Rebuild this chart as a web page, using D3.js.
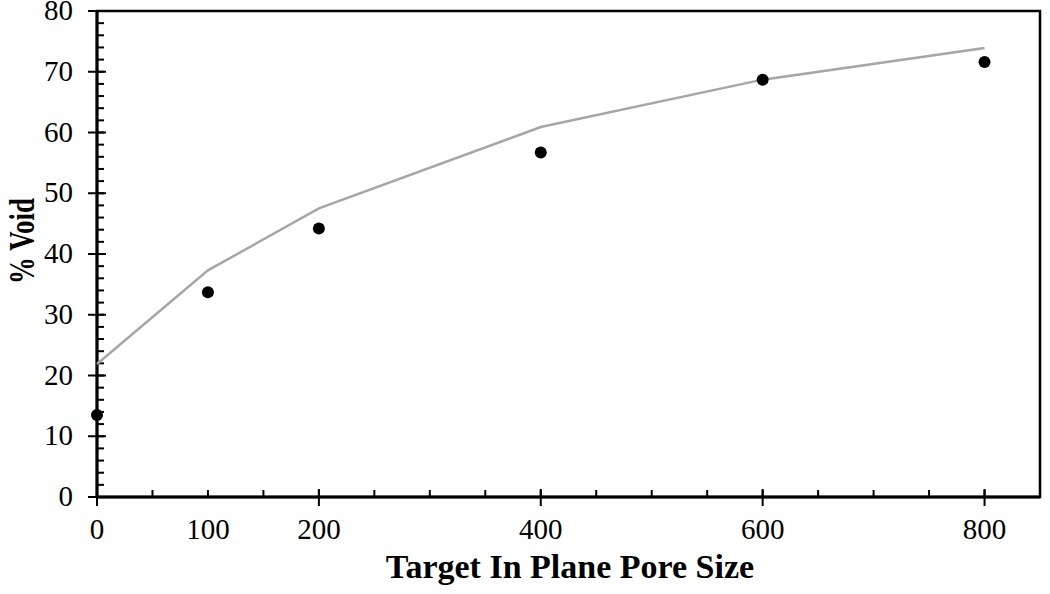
<!DOCTYPE html>
<html>
	<head>
		<meta charset="utf-8">
		<title>% Void vs Target In Plane Pore Size</title>
		<script src="https://d3js.org/d3.v7.min.js"></script>
		<style>
			html, body { margin: 0; background: #fff; }
			svg text { font-family: "Liberation Serif", "Times New Roman", serif; fill: #000; }
		</style>
	</head>
	<body>
		<svg id="chart" width="1050" height="594"></svg>
		<script>
			// measured values
			const poreSize   = [0, 100, 200, 400, 600, 800];
			const voidPct    = [13.5, 33.7, 44.2, 56.7, 68.7, 71.6];
			const fitPct     = [21.9, 37.3, 47.5, 60.9, 68.7, 73.9];
			const xTickLabels = [0, 100, 200, 400, 600, 800];
			const yTickLabels = [0, 10, 20, 30, 40, 50, 60, 70, 80];

			const margin = {top: 11, right: 10, bottom: 97, left: 97},
				width  = 1050 - margin.left - margin.right,
				height = 594 - margin.top - margin.bottom;

			const svg = d3.select("#chart");
			const g = svg.append("g")
				.attr("transform", `translate(${margin.left},${margin.top})`);

			const x = d3.scaleLinear().domain([0, 850]).range([0, width]);
			const y = d3.scaleLinear().domain([0, 80]).range([height, 0]);

			// frame
			g.append("rect")
				.attr("width", width).attr("height", height)
				.attr("fill", "none").attr("stroke", "#000").attr("stroke-width", 2.5);

			// minor ticks (inside)
			g.selectAll(".xminor")
				.data(d3.range(0, 851, 50))
				.enter().append("line")
				.attr("x1", d => x(d)).attr("x2", d => x(d))
				.attr("y1", height).attr("y2", height - 7)
				.attr("stroke", "#000").attr("stroke-width", 2);

			g.selectAll(".yminor")
				.data(d3.range(0, 81, 2))
				.enter().append("line")
				.attr("y1", d => y(d)).attr("y2", d => y(d))
				.attr("x1", 0).attr("x2", 7)
				.attr("stroke", "#000").attr("stroke-width", 2);

			// major ticks (crossing)
			g.selectAll(".xmajor")
				.data(d3.range(0, 851, 200))
				.enter().append("line")
				.attr("x1", d => x(d)).attr("x2", d => x(d))
				.attr("y1", height - 8).attr("y2", height + 9)
				.attr("stroke", "#000").attr("stroke-width", 2);

			g.selectAll(".ymajor")
				.data(d3.range(0, 81, 10))
				.enter().append("line")
				.attr("y1", d => y(d)).attr("y2", d => y(d))
				.attr("x1", -9).attr("x2", 9)
				.attr("stroke", "#000").attr("stroke-width", 2);

			// axis lines on top
			g.append("line").attr("x1", 0).attr("x2", 0).attr("y1", 0).attr("y2", height)
				.attr("stroke", "#000").attr("stroke-width", 3);
			g.append("line").attr("x1", 0).attr("x2", width).attr("y1", height).attr("y2", height)
				.attr("stroke", "#000").attr("stroke-width", 3);

			// tick labels
			g.selectAll(".xlabel")
				.data(xTickLabels)
				.enter().append("text")
				.attr("x", d => x(d)).attr("y", height + 42)
				.attr("text-anchor", "middle")
				.attr("font-size", 29)
				.text(d => d);

			g.selectAll(".ylabel")
				.data(yTickLabels)
				.enter().append("text")
				.attr("x", -24).attr("y", d => y(d) + 9)
				.attr("text-anchor", "end")
				.attr("font-size", 29)
				.text(d => d);

			// fitted line
			const line = d3.line()
				.x((d, i) => x(poreSize[i]))
				.y(d => y(d));

			g.append("path")
				.datum(fitPct)
				.attr("d", line)
				.attr("fill", "none")
				.attr("stroke", "#a6a6a6")
				.attr("stroke-width", 2.5);

			// measured points
			g.selectAll(".dot")
				.data(voidPct)
				.enter().append("circle")
				.attr("cx", (d, i) => x(poreSize[i]))
				.attr("cy", d => y(d))
				.attr("r", 6)
				.attr("fill", "#000");

			// axis titles
			svg.append("text")
				.attr("x", 570).attr("y", 578)
				.attr("text-anchor", "middle")
				.attr("font-size", 34)
				.attr("font-weight", "bold")
				.text("Target In Plane Pore Size");

			svg.append("text")
				.attr("transform", "translate(34,241) rotate(-90)")
				.attr("text-anchor", "middle")
				.attr("font-size", 36)
				.attr("font-weight", "bold")
				.attr("textLength", 86)
				.attr("lengthAdjust", "spacingAndGlyphs")
				.text("% Void");
		</script>
	</body>
</html>
